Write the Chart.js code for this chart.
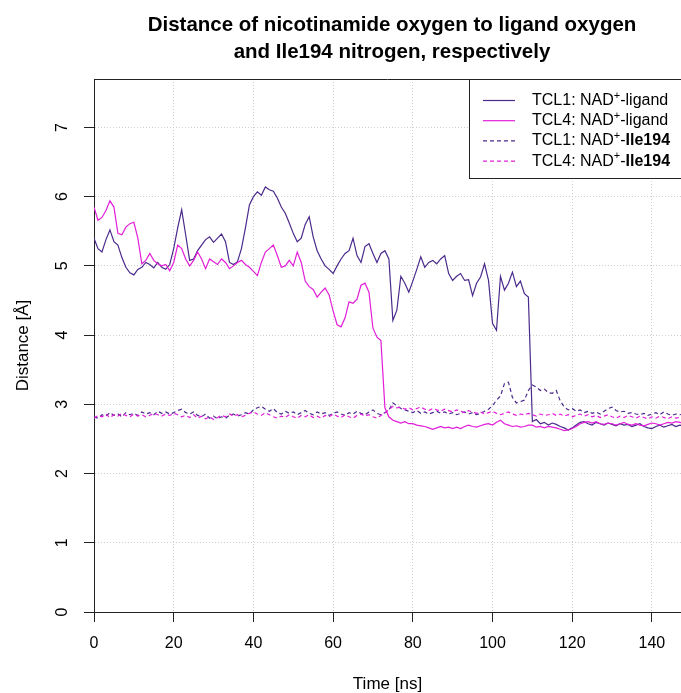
<!DOCTYPE html>
<html>
<head>
<meta charset="utf-8">
<title>NAD+ distances</title>
<script src="https://cdn.jsdelivr.net/npm/chart.js@4.4.1/dist/chart.umd.min.js"></script>
<style>
    html, body { margin: 0; padding: 0; background: #fff; }
    #wrap { position: relative; width: 681px; height: 693px; }
</style>
</head>
<body>
<div id="wrap"><canvas id="distChart" width="681" height="693"></canvas></div>
<script>
// simulation time, one frame per ns
const timeNs = Array.from({ length: 149 }, (_, i) => i);

const tcl1Ligand = [
    5.40, 5.25, 5.20, 5.38, 5.52, 5.35, 5.30, 5.12, 4.98, 4.90,
    4.87, 4.95, 4.98, 5.05, 5.02, 4.97, 5.05, 4.98, 4.95, 5.02,
    5.25, 5.55, 5.81, 5.45, 5.08, 5.10, 5.22, 5.30, 5.38, 5.42,
    5.34, 5.40, 5.46, 5.35, 5.05, 5.02, 5.06, 5.25, 5.55, 5.88,
    6.00, 6.07, 6.02, 6.14, 6.10, 6.08, 5.98, 5.85, 5.76, 5.62,
    5.47, 5.35, 5.40, 5.60, 5.71, 5.42, 5.22, 5.10, 5.00, 4.95,
    4.89, 5.00, 5.10, 5.18, 5.22, 5.40, 5.15, 5.05, 5.28, 5.32,
    5.18, 5.05, 5.18, 5.22, 5.10, 4.21, 4.36, 4.85, 4.75, 4.62,
    4.78, 4.95, 5.13, 4.98, 5.05, 5.08, 5.03, 5.10, 5.15, 4.89,
    4.79, 4.85, 4.89, 4.79, 4.80, 4.57, 4.75, 4.84, 5.03, 4.79,
    4.17, 4.07, 4.85, 4.65, 4.75, 4.91, 4.70, 4.78, 4.60, 4.55,
    2.75, 2.78, 2.72, 2.74, 2.70, 2.73, 2.71, 2.68, 2.66, 2.63,
    2.66, 2.70, 2.74, 2.75, 2.72, 2.70, 2.74, 2.72, 2.70, 2.73,
    2.71, 2.69, 2.72, 2.70, 2.71, 2.68, 2.70, 2.72, 2.68, 2.66,
    2.65, 2.68, 2.70, 2.67, 2.69, 2.71, 2.68, 2.70, 2.69
];

const tcl4Ligand = [
    5.85, 5.66, 5.70, 5.80, 5.94, 5.85, 5.47, 5.45, 5.56, 5.61,
    5.63, 5.40, 5.03, 5.08, 5.18, 5.08, 5.03, 5.00, 5.02, 4.93,
    5.05, 5.30, 5.25, 5.10, 5.00, 5.08, 5.20, 5.10, 4.96, 5.10,
    5.06, 5.02, 5.10, 5.05, 4.96, 5.00, 5.05, 5.08, 5.02, 4.98,
    4.92, 4.86, 5.05, 5.20, 5.25, 5.30, 5.15, 4.98, 5.00, 5.08,
    5.00, 5.20, 5.05, 4.78, 4.70, 4.66, 4.55, 4.62, 4.68, 4.58,
    4.35, 4.15, 4.12, 4.25, 4.48, 4.46, 4.52, 4.72, 4.75, 4.62,
    4.10, 3.97, 3.92, 2.95, 2.82, 2.77, 2.75, 2.73, 2.75, 2.72,
    2.72, 2.70, 2.69, 2.68, 2.66, 2.64, 2.66, 2.68, 2.66, 2.67,
    2.65, 2.67, 2.65, 2.68, 2.70, 2.68, 2.67, 2.69, 2.71, 2.72,
    2.70, 2.74, 2.77, 2.72, 2.70, 2.68, 2.69, 2.67, 2.68, 2.70,
    2.70, 2.67, 2.68, 2.66, 2.68, 2.67, 2.66, 2.64, 2.62, 2.63,
    2.65, 2.68, 2.72, 2.74, 2.75, 2.73, 2.75, 2.72, 2.71, 2.73,
    2.72, 2.70, 2.72, 2.74, 2.71, 2.70, 2.72, 2.70, 2.69, 2.71,
    2.73, 2.72, 2.70, 2.72, 2.74, 2.73, 2.75, 2.74, 2.73
];

const tcl1Ile194 = [
    2.82, 2.80, 2.85, 2.83, 2.88, 2.84, 2.86, 2.82, 2.88, 2.85,
    2.87, 2.84, 2.89, 2.86, 2.88, 2.85, 2.90, 2.87, 2.89, 2.86,
    2.88, 2.91, 2.93, 2.88, 2.86, 2.89, 2.84, 2.82, 2.86, 2.80,
    2.83, 2.79, 2.82, 2.80, 2.84, 2.86, 2.83, 2.85, 2.88, 2.86,
    2.92, 2.95, 2.97, 2.93, 2.90, 2.94, 2.88, 2.86, 2.90, 2.87,
    2.89, 2.85, 2.88, 2.91, 2.87, 2.85, 2.89, 2.86, 2.88, 2.84,
    2.87, 2.89, 2.86, 2.84, 2.88, 2.86, 2.90, 2.87, 2.85, 2.89,
    2.92, 2.87, 2.85, 2.88, 2.92, 3.02, 2.98, 2.94, 2.92, 2.90,
    2.88, 2.91, 2.87, 2.89, 2.86, 2.88, 2.90, 2.87, 2.89, 2.86,
    2.88, 2.85, 2.87, 2.89, 2.86, 2.88, 2.85, 2.87, 2.90, 2.93,
    2.98, 3.06, 3.12, 3.30, 3.32, 3.10, 3.02, 3.04, 3.06, 3.20,
    3.28, 3.25, 3.20, 3.22, 3.17, 3.16, 3.20, 3.05, 2.96, 2.92,
    2.94, 2.90, 2.92, 2.88, 2.90, 2.87, 2.89, 2.86, 2.90, 2.94,
    2.96, 2.91, 2.89, 2.90, 2.87, 2.88, 2.86, 2.85, 2.87, 2.84,
    2.86, 2.88, 2.85, 2.89, 2.86, 2.84, 2.86, 2.85, 2.86
];

const tcl4Ile194 = [
    2.80, 2.84, 2.82, 2.86, 2.81, 2.85, 2.83, 2.87, 2.84, 2.82,
    2.86, 2.83, 2.85, 2.82, 2.84, 2.87, 2.85, 2.83, 2.86, 2.84,
    2.87, 2.85, 2.82, 2.84, 2.81, 2.85, 2.80, 2.83, 2.79, 2.82,
    2.78, 2.81, 2.84, 2.82, 2.86, 2.83, 2.85, 2.82, 2.84, 2.87,
    2.89, 2.86, 2.84, 2.88, 2.85, 2.82, 2.80, 2.83, 2.81, 2.85,
    2.82, 2.80, 2.84, 2.82, 2.85, 2.81, 2.83, 2.80, 2.84, 2.82,
    2.86, 2.83, 2.81, 2.85, 2.82, 2.80, 2.84, 2.86, 2.83, 2.85,
    2.82, 2.80, 2.84, 2.88, 2.92, 2.97, 2.95, 2.96, 2.93, 2.95,
    2.92, 2.94, 2.96, 2.93, 2.91, 2.94, 2.92, 2.90, 2.93, 2.91,
    2.89, 2.92, 2.90, 2.88, 2.91, 2.89, 2.87, 2.89, 2.86, 2.88,
    2.90, 2.87, 2.85, 2.87, 2.89, 2.86, 2.84, 2.86, 2.85, 2.87,
    2.85, 2.83, 2.86, 2.84, 2.85, 2.87, 2.84, 2.86, 2.83, 2.85,
    2.82, 2.84, 2.86, 2.83, 2.85, 2.82, 2.84, 2.81, 2.83, 2.85,
    2.82, 2.80, 2.83, 2.81, 2.84, 2.82, 2.80, 2.83, 2.81, 2.79,
    2.82, 2.80, 2.83, 2.81, 2.79, 2.82, 2.80, 2.81, 2.80
];

const xTicks = [0, 20, 40, 60, 80, 100, 120, 140];
const yTicks = [0, 1, 2, 3, 4, 5, 6, 7];

const purple = '#4a2a8c';
const magenta = '#e21ed9';
const fontFamily = "'Liberation Sans', Arial, Helvetica, sans-serif";

Chart.defaults.font.family = fontFamily;
Chart.defaults.color = '#000';

const series = (label, values, color, dashed, order) => ({
    label: label,
    data: values,
    borderColor: color,
    borderWidth: 1.2,
    borderDash: dashed ? [4, 3] : [],
    pointRadius: 0,
    tension: 0,
    fill: false,
    order: order
});

// title, frame top and boxed legend like the base R plot
const decorations = {
    id: 'decorations',
    afterDraw(chart) {
        const { ctx, chartArea: a } = chart;
        const cx = 392;
        ctx.save();
        ctx.fillStyle = '#000';
        ctx.textAlign = 'center';
        ctx.textBaseline = 'middle';
        ctx.font = 'bold 20.5px ' + fontFamily;
        ctx.fillText('Distance of nicotinamide oxygen to ligand oxygen', cx, 25);
        ctx.fillText('and Ile194 nitrogen, respectively', cx, 52);

        ctx.strokeStyle = '#222';
        ctx.lineWidth = 1;
        ctx.beginPath();
        ctx.moveTo(a.left, a.top + 0.5);
        ctx.lineTo(a.right, a.top + 0.5);
        ctx.stroke();

        // legend box
        const lx = 469.5, ly = 79.5, lh = 99;
        ctx.fillStyle = '#fff';
        ctx.fillRect(lx, ly, 240, lh);
        ctx.strokeStyle = '#222';
        ctx.strokeRect(lx, ly, 240, lh);

        chart.data.datasets.forEach((ds, i) => {
            const y = 100.5 + i * 20.2;
            ctx.strokeStyle = ds.borderColor;
            ctx.lineWidth = 1.2;
            ctx.setLineDash(ds.borderDash);
            ctx.beginPath();
            ctx.moveTo(483, y);
            ctx.lineTo(515, y);
            ctx.stroke();
            ctx.setLineDash([]);

            const [head, tail] = ds.label.split('+');
            ctx.fillStyle = '#000';
            ctx.textAlign = 'left';
            ctx.textBaseline = 'middle';
            let x = 532;
            ctx.font = '16px ' + fontFamily;
            ctx.fillText(head, x, y);
            x += ctx.measureText(head).width;
            ctx.font = '11px ' + fontFamily;
            ctx.fillText('+', x, y - 5);
            x += ctx.measureText('+').width;
            ctx.font = '16px ' + fontFamily;
            const bold = tail.indexOf('Ile194') >= 0;
            ctx.fillText('-', x, y);
            x += ctx.measureText('-').width;
            ctx.font = (bold ? 'bold ' : '') + '16px ' + fontFamily;
            ctx.fillText(tail.slice(1), x, y);
        });
        ctx.restore();
    }
};

const distCtx = document.getElementById('distChart').getContext('2d');
const distChart = new Chart(distCtx, {
    type: 'line',
    data: {
        labels: timeNs,
        datasets: [
            series('TCL1: NAD+-ligand', tcl1Ligand, purple, false, 4),
            series('TCL4: NAD+-ligand', tcl4Ligand, magenta, false, 3),
            series('TCL1: NAD+-Ile194', tcl1Ile194, purple, true, 2),
            series('TCL4: NAD+-Ile194', tcl4Ile194, magenta, true, 1)
        ]
    },
    options: {
        responsive: false,
        animation: false,
        layout: { padding: { top: 79, left: 0, right: 0, bottom: 0 } },
        plugins: {
            legend: { display: false },
            title: { display: false },
            tooltip: { enabled: false }
        },
        scales: {
            x: {
                type: 'linear',
                min: 0,
                max: 147.3,
                afterBuildTicks: (scale) => { scale.ticks = xTicks.map(v => ({ value: v })); },
                afterFit: (scale) => { scale.height = 81; },
                grid: { color: '#cfcfcf', lineWidth: 1, tickLength: 10, tickColor: '#222', tickWidth: 1, tickBorderDash: [] },
                border: { color: '#222', width: 1, dash: [1, 2] },
                ticks: { font: { size: 16 }, padding: 12, maxRotation: 0, autoSkip: false },
                title: { display: true, text: 'Time [ns]', font: { size: 17, lineHeight: 1 }, padding: { top: 0, bottom: 0 } }
            },
            y: {
                min: 0,
                max: 7.7,
                afterBuildTicks: (scale) => { scale.ticks = yTicks.map(v => ({ value: v })); },
                afterFit: (scale) => { scale.width = 94; },
                grid: { color: '#cfcfcf', lineWidth: 1, tickLength: 10, tickColor: '#222', tickWidth: 1, tickBorderDash: [] },
                border: { color: '#222', width: 1, dash: [1, 2] },
                ticks: { font: { size: 16 }, padding: 16.5, minRotation: 90, maxRotation: 90, crossAlign: 'center', autoSkip: false },
                title: { display: true, text: 'Distance [Å]', font: { size: 17, lineHeight: 1 }, padding: { top: 14.5, bottom: 0 } }
            }
        }
    },
    plugins: [decorations]
});
</script>
</body>
</html>
